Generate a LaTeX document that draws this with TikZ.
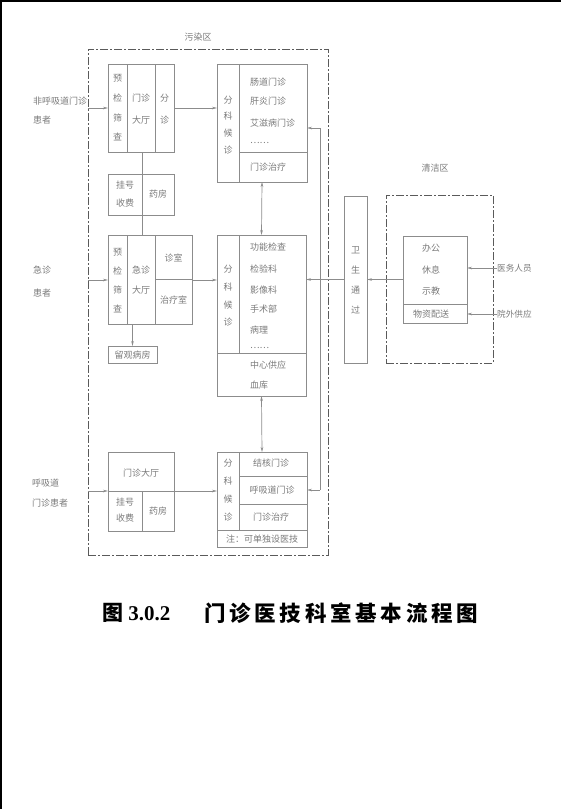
\documentclass[tikz,border=0pt]{standalone}
\usepackage{fontspec}
\newfontfamily\cjk{Noto Sans CJK SC}
\newfontfamily\tnr{Liberation Serif}
\usetikzlibrary{arrows.meta}
\definecolor{ln}{HTML}{8C8C8C}
\definecolor{tx}{HTML}{7A7A7A}
\definecolor{zn}{HTML}{5A5A5A}
\tikzset{
  bx/.style={draw=ln, line width=0.7pt, inner sep=0pt, outer sep=0pt, anchor=north west},
  zone/.style={draw=zn, line width=0.8pt, dash pattern=on 8pt off 2.2pt on 1.6pt off 2.2pt, inner sep=0pt, outer sep=0pt, anchor=north west},
  dv/.style={draw=ln, line width=0.7pt},
  cn/.style={draw=ln, line width=0.7pt},
  arr/.style={cn, -{Stealth[length=5pt,width=2.6pt]}},
  arrb/.style={cn, {Stealth[length=5pt,width=2.6pt]}-{Stealth[length=5pt,width=2.6pt]}},
  t/.style={text=tx, inner sep=0pt, font=\cjk\fontsize{9}{11}\selectfont},
  tl/.style={t, anchor=west},
  vt/.style={t, align=center, font=\cjk\fontsize{9}{#1}\selectfont},
  vt/.default=19
}
\begin{document}
\begin{tikzpicture}[x=1pt,y=-1pt]
\useasboundingbox (0,0) rectangle (561,809);
% page frame
\draw[line width=1.6pt, black] (0.8,809) -- (0.8,0.8) -- (561,0.8);

% zones
\node[zone, minimum width=240pt, minimum height=506pt] (PZ) at (88,49) {};
\node[t] (pzl) at (198,37) {污染区};
\node[zone, minimum width=107pt, minimum height=168pt] (CZ) at (386,195) {};
\node[t] (czl) at (435,168) {清洁区};

% ---------- group 1: non respiratory ----------
\node[tl] (p1a) at (33,101) {非呼吸道门诊};
\node[tl] (p1b) at (33,120) {患者};
\node[bx, minimum width=66pt, minimum height=88pt] (L1) at (108,64) {};
\draw[dv] (127,64) -- (127,152);
\draw[dv] (155,64) -- (155,152);
\node[vt=19.7] (l1a) at (117.5,108) {预\\检\\筛\\查};
\node[vt=22] (l1b) at (141,109) {门诊\\大厅};
\node[vt=22] (l1c) at (164.5,109) {分\\诊};
\node[bx, minimum width=66pt, minimum height=41pt] (G1) at (108,174) {};
\node[vt=18] (g1a) at (125,194) {挂号\\收费};
\node[t] (g1b) at (158,194) {药房};

\node[bx, minimum width=90pt, minimum height=118pt] (R1) at (217,64) {};
\draw[dv] (239,64) -- (239,182);
\draw[dv] (239,152) -- (307,152);
\node[vt=16.8] (r1a) at (228,125) {分\\科\\候\\诊};
\node[tl] (r1b) at (250,82) {肠道门诊};
\node[tl] (r1c) at (250,101) {肝炎门诊};
\node[tl] (r1d) at (250,123) {艾滋病门诊};
\node[tl] (r1e) at (250,143) {……};
\node[t] (r1f) at (268,167) {门诊治疗};

% ---------- group 2: emergency ----------
\node[tl] (p2a) at (33,270) {急诊};
\node[tl] (p2b) at (33,293) {患者};
\node[bx, minimum width=84pt, minimum height=89pt] (L2) at (108,235) {};
\draw[dv] (127,235) -- (127,324);
\draw[dv] (155,235) -- (155,324);
\draw[dv] (155,279) -- (192,279);
\node[vt=19] (l2a) at (117.5,281) {预\\检\\筛\\查};
\node[vt=20] (l2b) at (141,280) {急诊\\大厅};
\node[t] (l2c) at (173.5,258) {诊室};
\node[t] (l2d) at (173.5,300) {治疗室};
\node[bx, minimum width=49pt, minimum height=17pt] (LG) at (108,346) {};
\node[t] (lgt) at (132.5,355) {留观病房};

\node[bx, minimum width=89pt, minimum height=161pt] (R2) at (217,235) {};
\draw[dv] (239,235) -- (239,353);
\draw[dv] (217,353) -- (306,353);
\node[vt=17.7] (r2a) at (228,296) {分\\科\\候\\诊};
\node[tl] (r2b) at (250,247) {功能检查};
\node[tl] (r2c) at (250,269) {检验科};
\node[tl] (r2d) at (250,290) {影像科};
\node[tl] (r2e) at (250,309) {手术部};
\node[tl] (r2f) at (250,330) {病理};
\node[tl] (r2g) at (250,348) {……};
\node[tl] (r2h) at (250,365) {中心供应};
\node[tl] (r2i) at (250,385) {血库};

% ---------- group 3: respiratory ----------
\node[tl] (p3a) at (32,483) {呼吸道};
\node[tl] (p3b) at (32,503) {门诊患者};
\node[bx, minimum width=66pt, minimum height=79pt] (L3) at (108,452) {};
\draw[dv] (108,491) -- (174,491);
\draw[dv] (142,491) -- (142,531);
\node[t] (l3a) at (141,473) {门诊大厅};
\node[vt=16] (l3b) at (125,510) {挂号\\收费};
\node[t] (l3c) at (158,511) {药房};

\node[bx, minimum width=90pt, minimum height=95pt] (R3) at (217,452) {};
\draw[dv] (239,452) -- (239,530);
\draw[dv] (239,476) -- (307,476);
\draw[dv] (239,504) -- (307,504);
\draw[dv] (217,530) -- (307,530);
\node[vt=18] (r3a) at (228,490) {分\\科\\候\\诊};
\node[t] (r3b) at (271,463) {结核门诊};
\node[t] (r3c) at (272,490) {呼吸道门诊};
\node[t] (r3d) at (271,517) {门诊治疗};
\node[t] (r3e) at (262,539) {注：可单独设医技};

% ---------- sanitary passage & clean zone ----------
\node[bx, minimum width=23pt, minimum height=167pt] (WS) at (344,196) {};
\node[vt=20] (wst) at (355.5,280) {卫\\生\\通\\过};
\node[bx, minimum width=64pt, minimum height=87pt] (CB) at (403,236) {};
\draw[dv] (403,304) -- (467,304);
\node[vt=21.5] (cbt) at (431,270) {办公\\休息\\示教};
\node[t] (cbw) at (431,314) {物资配送};
\node[t, anchor=west, font=\cjk\fontsize{8.6}{10}\selectfont] (yw) at (497,268) {医务人员};
\node[t, anchor=west, font=\cjk\fontsize{8.6}{10}\selectfont] (wg) at (497,314) {院外供应};

% ---------- connectors ----------
\coordinate (z1) at (88,108);
\coordinate (z2) at (88,280);
\coordinate (z3) at (88,491);
\draw[arr] (z1) -- (z1 -| L1.west);
\draw[arr] (z2) -- (z2 -| L2.west);
\draw[arr] (z3) -- (z3 -| L3.west);
\draw[arr] (z1 -| L1.east) -- (z1 -| R1.west);
\draw[arr] (z2 -| L2.east) -- (z2 -| R2.west);
\draw[arr] (z3 -| L3.east) -- (z3 -| R3.west);
\draw[cn] (142,152) -- (142,235);
\draw[arr] (LG.north |- L2.south) -- (LG.north);
\draw[arrb] (R1.south) -- (R2.north);
\draw[arrb] (R2.south) -- (R3.north);
\coordinate (t1) at (320,128);
\coordinate (t3) at (320,490);
\draw[cn] (t1) -- (t3);
\draw[arr] (t1) -- (t1 -| R1.east);
\draw[arr] (t3) -- (t3 -| R3.east);
\draw[arr] (WS.west) -- (WS.west -| R2.east);
\draw[arr] (CB.west) -- (CB.west -| WS.east);
\draw[arr] (yw.west) -- (yw.west -| CB.east);
\draw[arr] (wg.west) -- (wg.west -| CB.east);

% ---------- caption ----------
\node[anchor=west, inner sep=0pt, font=\tnr\bfseries\fontsize{21}{23}\selectfont] (cap1) at (102,613) {{\cjk\bfseries 图} 3.0.2};
\node[anchor=west, inner sep=0pt, font=\cjk\bfseries\fontsize{21.5}{23}\selectfont] (cap2) at (204,613) {\makebox[274pt][s]{门\hfill 诊\hfill 医\hfill 技\hfill 科\hfill 室\hfill 基\hfill 本\hfill 流\hfill 程\hfill 图}};
\end{tikzpicture}
\end{document}
